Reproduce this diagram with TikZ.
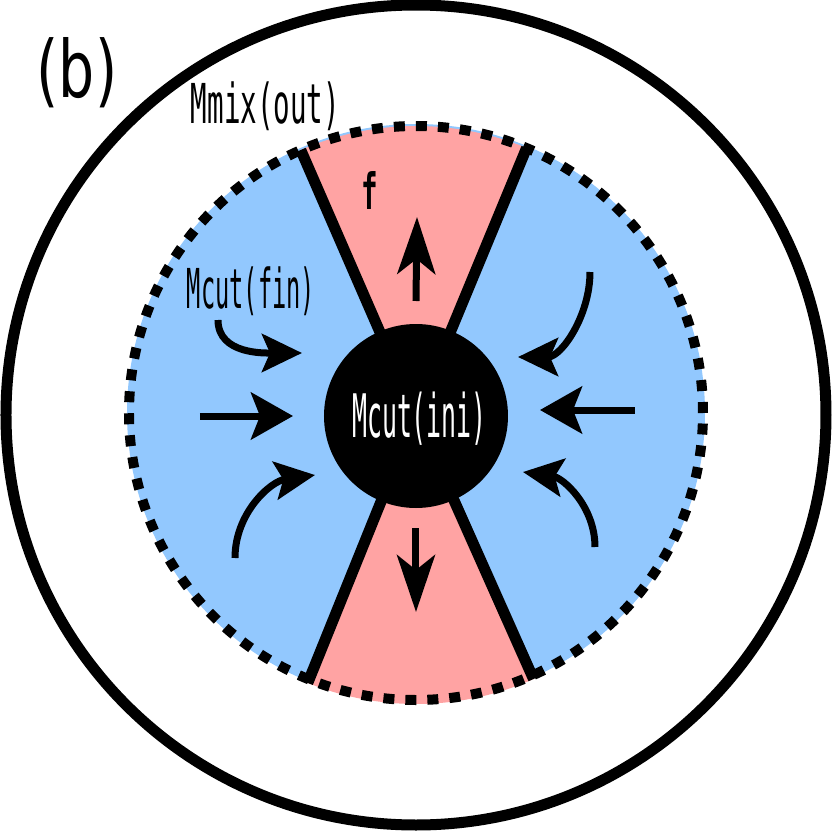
\documentclass[tikz,border=0pt]{standalone}
\usepackage{fontspec}
\usepackage{graphicx}
\usetikzlibrary{arrows.meta}
\newfontfamily\labfont{DejaVu Sans Mono}
\newfontfamily\titfont{DejaVu Sans}
\definecolor{zoneblue}{RGB}{146,200,254}
\definecolor{zonepink}{RGB}{255,163,163}
\tikzset{
  lab/.style={inner sep=0pt, outer sep=0pt, anchor=base},
  wedgeline/.style={line width=11pt, line cap=butt},
  straightarr/.style={line width=7pt, -{Stealth[length=42pt,width=47pt,inset=9pt]}},
  vertarr/.style={line width=7pt, -{Stealth[length=57pt,width=38pt,inset=15pt]}},
  curvearr/.style={line width=7pt, -{Stealth[length=40pt,width=38pt,inset=8pt]}},
}
\begin{document}
\begin{tikzpicture}[x=1pt,y=1pt]
\useasboundingbox (-416,-416) rectangle (415,415);
% outer circle
\draw[line width=11pt] (0,0) circle[radius=410];
% blue disk
\fill[zoneblue] (0,2) circle[radius=289];
% pink wedges
\fill[zonepink] (0,0) -- (67.5:289) arc[start angle=67.5,end angle=113.5,radius=289] -- cycle;
\fill[zonepink] (0,0) -- (248:289) arc[start angle=248,end angle=294,radius=289] -- cycle;
% dashed boundary
\draw[line width=10pt, dash pattern=on 11pt off 11pt] (0,2) circle[radius=287];
% wedge boundary lines
\foreach \a in {67.5,113.5,248,294}{
  \draw[wedgeline] (\a:80) -- (\a:289);
}
% central black disk
\fill[black] (0,-1) circle[radius=92];
% arrows
\coordinate (ut0) at (0,114);
\coordinate (ut1) at (1,198);
\coordinate (dt0) at (0,-113);
\coordinate (dt1) at (0,-197);
\draw[vertarr] (ut0) -- (ut1);
\draw[vertarr] (dt0) -- (dt1);
\coordinate (lm0) at (-216,-1);
\coordinate (lm1) at (-123,-1);
\coordinate (rm0) at (219,5);
\coordinate (rm1) at (124,5);
\draw[straightarr] (lm0) -- (lm1);
\draw[straightarr] (rm0) -- (rm1);
\coordinate (lt0) at (-198,95);
\coordinate (lt1) at (-114,62);
\draw[curvearr] (lt0) to[out=-90,in=180] (lt1);
\coordinate (lb0) at (-181,-143);
\coordinate (lb1) at (-101,-60);
\draw[curvearr] (lb0) to[out=90,in=188] (lb1);
\coordinate (rt0) at (174,143);
\coordinate (rt1) at (102,58);
\draw[curvearr] (rt0) to[out=-90,in=0] (rt1);
\coordinate (rb0) at (179,-132);
\coordinate (rb1) at (107,-57);
\draw[curvearr] (rb0) to[out=90,in=-8] (rb1);
% labels
\node[lab] (title) at (-339,318) {\scalebox{0.72}[1]{\titfont\fontsize{79}{90}\selectfont (b)}};
\node[lab] (mmix) at (-150.5,292) {\scalebox{0.5}[1]{\labfont\fontsize{55}{60}\selectfont Mmix(out)}};
\node[lab] (mfin) at (-165,107) {\scalebox{0.43}[1]{\labfont\fontsize{55}{60}\selectfont Mcut(fin)}};
\node[lab, text=white] (mini) at (3.5,-22) {\scalebox{0.415}[1]{\labfont\fontsize{60}{66}\selectfont Mcut(ini)}};
\node[lab] (flab) at (-46,206) {\scalebox{0.55}[1]{\labfont\bfseries\fontsize{50}{55}\selectfont f}};
\end{tikzpicture}
\end{document}
